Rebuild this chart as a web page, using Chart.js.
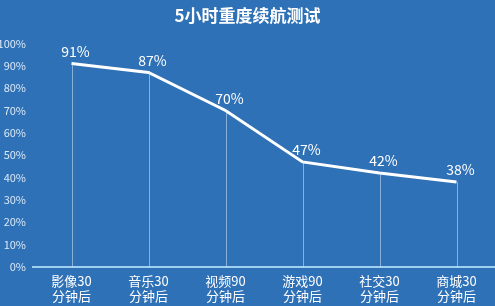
<!DOCTYPE html>
<html>
<head>
<meta charset="utf-8">
<script src="https://cdn.jsdelivr.net/npm/chart.js@4"></script>
<style>
  html, body { margin: 0; padding: 0; background: #2e71b6; }
  #wrap { width: 495px; height: 306px; }
</style>
</head>
<body>
<div id="wrap"><canvas id="batteryChart" width="495" height="306"></canvas></div>
<script>
// data
const scenes = ['影像30', '音乐30', '视频90', '游戏90', '社交30', '商城30'];
const sceneSuffix = '分钟后';
const batteryLeft = [91, 87, 70, 47, 42, 38];
const chartTitle = '5小时重度续航测试';

const cjkFont = '"Noto Sans CJK SC", "Noto Sans", sans-serif';

// vertical drop lines and value labels above each point
const pointDecor = {
    id: 'pointDecor',
    afterDatasetsDraw(chart) {
        const ctx = chart.ctx;
        const meta = chart.getDatasetMeta(0);
        const bottom = chart.chartArea.bottom;
        ctx.save();
        ctx.strokeStyle = 'rgba(210, 230, 250, 0.55)';
        ctx.lineWidth = 1;
        meta.data.forEach(pt => {
            ctx.beginPath();
            ctx.moveTo(Math.round(pt.x) + 0.5, pt.y);
            ctx.lineTo(Math.round(pt.x) + 0.5, bottom);
            ctx.stroke();
        });
        ctx.fillStyle = '#ffffff';
        ctx.font = '14px ' + cjkFont;
        ctx.textAlign = 'center';
        ctx.textBaseline = 'middle';
        meta.data.forEach((pt, i) => {
            ctx.fillText(batteryLeft[i] + '%', pt.x + 4, pt.y - 12);
        });
        ctx.restore();
    }
};

new Chart(document.getElementById('batteryChart'), {
    type: 'line',
    data: {
        labels: scenes.map(s => [s, sceneSuffix]),
        datasets: [{
            data: batteryLeft,
            borderColor: '#ffffff',
            borderWidth: 3,
            pointRadius: 0,
            tension: 0,
            fill: false
        }]
    },
    options: {
        responsive: false,
        animation: false,
        layout: { padding: { left: 0, right: 0, top: 0, bottom: 0 } },
        plugins: {
            legend: { display: false },
            tooltip: { enabled: false },
            title: {
                display: true,
                text: chartTitle,
                color: '#ffffff',
                font: { family: cjkFont, size: 17, weight: 'bold' },
                padding: { top: 5, bottom: 18 }
            }
        },
        scales: {
            x: {
                offset: true,
                grid: { display: false, drawTicks: false },
                border: { display: true, color: '#9fd0f2', width: 2 },
                ticks: {
                    color: '#ffffff',
                    font: { family: cjkFont, size: 13, lineHeight: 1.15 },
                    padding: 7,
                    maxRotation: 0
                },
                afterFit(scale) { scale.height = 39; }
            },
            y: {
                min: 0,
                max: 100,
                grid: { display: false, drawTicks: false },
                border: { display: false },
                ticks: {
                    stepSize: 10,
                    color: '#dbe9f7',
                    font: { family: cjkFont, size: 11 },
                    padding: 7,
                    callback: v => v + '%'
                },
                afterFit(scale) { scale.width = 33; }
            }
        }
    },
    plugins: [pointDecor]
});
</script>
</body>
</html>
